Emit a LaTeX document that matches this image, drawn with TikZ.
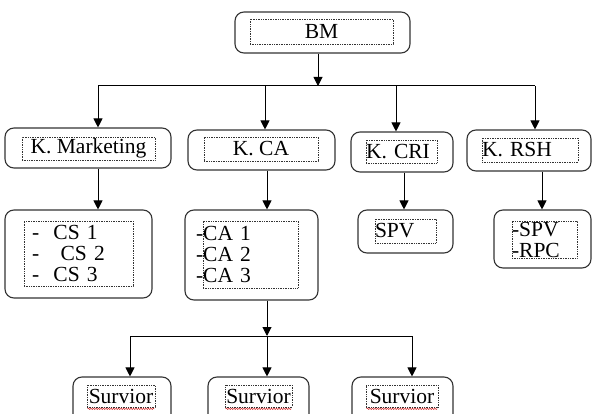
\documentclass[tikz,border=0pt]{standalone}
\usepackage{fontspec}
\setmainfont{Liberation Serif}
\usetikzlibrary{arrows.meta, decorations.pathmorphing}
\definecolor{BoxGray}{HTML}{333333}
\definecolor{WavyRed}{HTML}{D02020}
\newcommand{\boxfont}{\fontsize{21.5}{21}\selectfont}

\begin{document}
\begin{tikzpicture}[x=1pt, y=-1pt,
        outer/.style n args={2}{draw=BoxGray, line width=1.1pt, rounded corners=9pt,
                    inner sep=0pt, minimum width=#1, minimum height=#2},
        inbox/.style={draw=black!80, densely dotted, line width=0.7pt,
                    inner sep=0pt, font=\boxfont},
        midbox/.style n args={2}{inbox, minimum width=#1, minimum height=#2, align=center},
        leftbox/.style n args={2}{inbox, text width=#1, minimum height=#2, align=left},
        arr/.style={-{Triangle[width=9pt,length=9pt]}, line width=1pt},
        bar/.style={line width=1pt},
        wavy/.style={draw=WavyRed, line width=0.5pt,
                    decorate, decoration={snake, amplitude=0.7pt, segment length=2.5pt}}]

        \useasboundingbox (0,0) rectangle (592,414);
        \clip (0,0) rectangle (592,414);

        % Top
        \node[outer={175}{41}] (bmo) at (322.5,32.5) {};
        \node[midbox={143}{25}] (bm) at (321.5,31.5) {BM};

        % Departments
        \node[outer={166}{40}] (kmo)   at (88,148)    {};
        \node[midbox={133}{23}] (km)   at (88.5,148.5) {K. Marketing};
        \node[outer={147}{40}] (kcao)  at (261.5,150) {};
        \node[midbox={114}{24}] (kca)  at (261,149)   {K. CA};
        \node[outer={102}{40}] (kcrio) at (402,152)   {};
        \node[leftbox={71}{23}] (kcri) at (401.5,151.5) {K. CRI};
        \node[outer={124}{41}] (krsho) at (529,150.5) {};
        \node[leftbox={96}{24}] (krsh) at (530,150)   {K. RSH};

        % Sections
        \node[outer={147}{88}] (cso)   at (78.5,254)   {};
        \node[leftbox={109}{65}] (cs)  at (78.5,253.5)
             {\hspace*{8pt}-\ \ CS 1\\\hspace*{8pt}-\ \ \ CS 2\\\hspace*{8pt}-\ \ CS 3};
        \node[outer={133}{90}] (cao)   at (251.5,255)  {};
        \node[leftbox={95}{67}] (ca)   at (250.5,254.5)
             {\hspace*{-7pt}-CA 1\\\hspace*{-7pt}-CA 2\\\hspace*{-7pt}-CA 3};
        \node[outer={95}{43}] (spvo)   at (405.5,231.5) {};
        \node[leftbox={61}{24}] (spv)  at (405.5,231)  {SPV};
        \node[outer={97}{58}] (rpco)   at (542.5,239)  {};
        \node[leftbox={65}{37}] (rpc)  at (544.5,239.5) {-SPV\\-RPC};

        % Surveyors
        \node[outer={98}{50}] (sv1o)  at (122,402)   {};
        \node[midbox={68}{22}] (sv1)  at (121,396)   {Survior};
        \node[outer={101}{50}] (sv2o) at (258.5,402) {};
        \node[midbox={67}{22}] (sv2)  at (258.5,396) {Survior};
        \node[outer={101}{50}] (sv3o) at (402.5,402) {};
        \node[midbox={72}{22}] (sv3)  at (402,396)   {Survior};

        % Spelling marks
        \draw[wavy] ([xshift=1pt,yshift=-1.5pt]sv1.south west) -- ([xshift=-1pt,yshift=-1.5pt]sv1.south east);
        \draw[wavy] ([xshift=1pt,yshift=-1.5pt]sv2.south west) -- ([xshift=-1pt,yshift=-1.5pt]sv2.south east);
        \draw[wavy] ([xshift=1pt,yshift=-1.5pt]sv3.south west) -- ([xshift=-1pt,yshift=-1.5pt]sv3.south east);

        % Bus lines
        \coordinate (top) at (318,86);
        \coordinate (d1) at (98,86);
        \coordinate (d2) at (265,86);
        \coordinate (d3) at (396,86);
        \coordinate (d4) at (535,86);
        \coordinate (s1) at (130,336);
        \coordinate (s2) at (267,336);
        \coordinate (s3) at (412,336);

        % Arrows
        \draw[arr] (bmo.south -| top) -- (top);
        \draw[bar] (d1) -- (d4);
        \draw[arr] (d1) -- (d1 |- kmo.north);
        \draw[arr] (d2) -- (d2 |- kcao.north);
        \draw[arr] (d3) -- (d3 |- kcrio.north);
        \draw[arr] (d4) -- (d4 |- krsho.north);

        \draw[arr] ([xshift=10pt]kmo.south)   -- ([xshift=10pt]kmo.south |- cso.north);
        \draw[arr] ([xshift=5.5pt]kcao.south) -- ([xshift=5.5pt]kcao.south |- cao.north);
        \draw[arr] ([xshift=2pt]kcrio.south)  -- ([xshift=2pt]kcrio.south |- spvo.north);
        \draw[arr] ([xshift=13pt]krsho.south) -- ([xshift=13pt]krsho.south |- rpco.north);

        \draw[arr] (cao.south -| s2) -- (s2);
        \draw[bar] (s1) -- (s3);
        \draw[arr] (s1) -- (s1 |- sv1o.north);
        \draw[arr] (s2) -- (s2 |- sv2o.north);
        \draw[arr] (s3) -- (s3 |- sv3o.north);
\end{tikzpicture}
\end{document}
